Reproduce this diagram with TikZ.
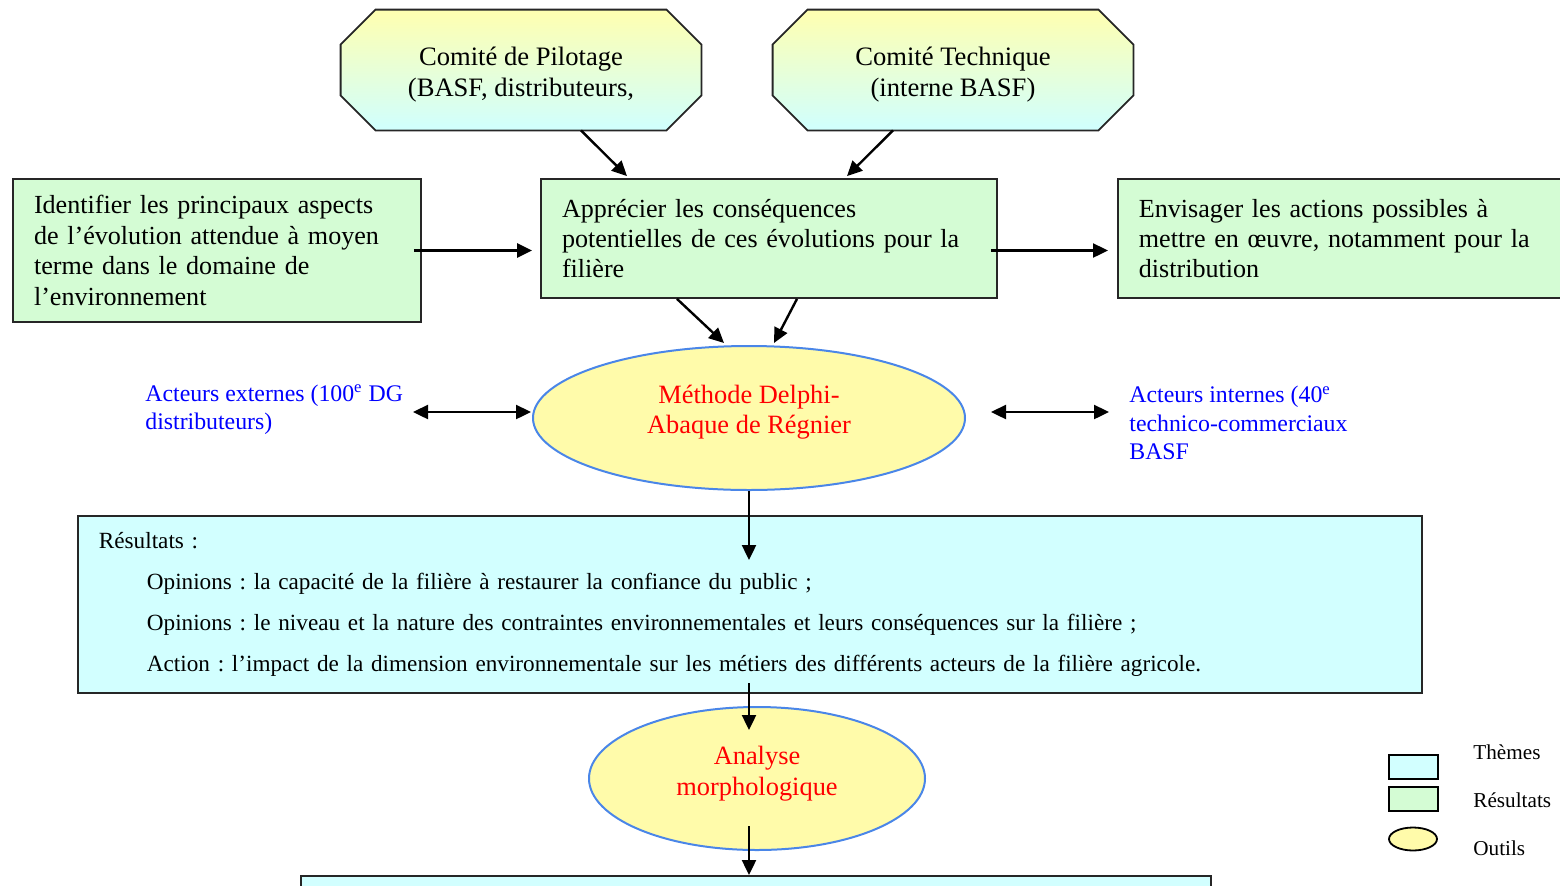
\documentclass[tikz,border=0pt]{standalone}
\usepackage{fontspec}
\setmainfont{Liberation Serif}
\usetikzlibrary{arrows.meta,calc,shapes.geometric,backgrounds}
\definecolor{gfill}{RGB}{212,252,212}
\definecolor{cfill}{RGB}{210,255,255}
\definecolor{yfill}{RGB}{255,251,170}
\definecolor{eborder}{RGB}{74,134,232}
\definecolor{octtop}{RGB}{255,255,176}
\definecolor{octbot}{RGB}{208,255,255}
\definecolor{bluetxt}{RGB}{0,0,255}
\definecolor{redtxt}{RGB}{255,0,0}
\newcommand{\bigf}{\frenchspacing\fontsize{13.05}{15.2}\selectfont}
\newcommand{\redf}{\frenchspacing\fontsize{13.2}{15.3}\selectfont}
\newcommand{\octf}{\frenchspacing\fontsize{13.3}{15.5}\selectfont}
\newcommand{\actf}{\frenchspacing\fontsize{11.9}{14.2}\selectfont}
\newcommand{\resf}{\frenchspacing\fontsize{11.6}{20.5}\selectfont}
\newcommand{\legf}{\frenchspacing\fontsize{10.6}{12}\selectfont}
\begin{document}
\frenchspacing
\begin{tikzpicture}[x=0.5pt,y=-0.5pt,
 boxline/.style={draw=black!85, line width=0.9pt},
 gbox/.style={boxline, fill=gfill, rectangle, align=left, inner xsep=10.5pt, inner ysep=0pt, font=\bigf},
 cbox/.style={boxline, fill=cfill, rectangle},
 tool/.style={ellipse, draw=eborder, line width=1pt, fill=yfill, inner sep=0pt},
 octtext/.style={align=center, font=\octf, inner sep=0pt, minimum width=180pt, minimum height=60pt},
 arr/.style={line width=1.2pt, -{Triangle[length=7.5pt,width=7pt]}},
 darr/.style={line width=1.2pt, {Triangle[length=7.5pt,width=7pt]}-{Triangle[length=7.5pt,width=7pt]}},
 actor/.style={text=bluetxt, font=\actf, align=left, inner sep=0pt, anchor=west},
 tooltext/.style={text=redtxt, font=\redf, align=center, inner sep=0pt},
 legtext/.style={font=\legf, inner sep=0pt, anchor=west},
 legbox/.style={draw=black, line width=0.9pt, rectangle, inner sep=0pt, minimum width=24.5pt, minimum height=12pt},
]
\useasboundingbox (0,0) rectangle (1560,885);

% committees (text shifted slightly down inside the octagon frame)
\node[octtext] (P) at (521,70) {\rule{0pt}{13.5pt}Comité de Pilotage\\(BASF, distributeurs,};
\node[octtext] (T) at (953,70) {\rule{0pt}{13.5pt}Comité Technique\\(interne BASF)};
\begin{scope}[on background layer]
\foreach \o in {P,T}{
\shade[top color=octtop,bottom color=octbot, draw=black!85, line width=0.9pt]
 ($(\o.north west)+(35,0)$) -- ($(\o.north east)+(-35,0)$) -- ($(\o.north east)+(0,35)$)
 -- ($(\o.south east)+(0,-35)$) -- ($(\o.south east)+(-35,0)$) -- ($(\o.south west)+(35,0)$)
 -- ($(\o.south west)+(0,-35)$) -- ($(\o.north west)+(0,35)$) -- cycle;
}
\end{scope}

% green boxes
\node[gbox, text width=183pt, minimum height=71.5pt] (L) at (217,250.5)
 {Identifier les principaux aspects\\de l’évolution attendue à moyen\\terme dans le domaine de\\l’environnement};
\node[gbox, text width=207pt, minimum height=59.5pt] (M) at (769,238.5)
 {Apprécier les conséquences\\potentielles de ces évolutions pour la\\filière};
\node[gbox, text width=219pt, minimum height=59.5pt, anchor=west] (E) at (1117,238.5)
 {Envisager les actions possibles à\\mettre en œuvre, notamment pour la\\distribution};

% Delphi
\node[tool, minimum width=216pt, minimum height=72pt] (D) at (749,418) {};
\node[tooltext] (Dt) at (749,412) {Méthode Delphi-\\Abaque de Régnier};

% actors
\node[actor] (AE) at (145,410) {Acteurs externes (100\textsuperscript{e} DG\\distributeurs)};
\node[actor] (AI) at (1129,423) {Acteurs internes (40\textsuperscript{e}\\technico-commerciaux\\BASF};

% results
\node[cbox, anchor=north west, minimum width=672pt, minimum height=88.5pt, text width=651pt,
 inner xsep=10.5pt, inner ysep=0pt, align=left, font=\resf] (R) at (77,515)
 {Résultats :\\
 \hspace*{24pt}Opinions : la capacité de la filière à restaurer la confiance du public ;\\
 \hspace*{24pt}Opinions : le niveau et la nature des contraintes environnementales et leurs conséquences sur la filière ;\\
 \hspace*{24pt}Action : l’impact de la dimension environnementale sur les métiers des différents acteurs de la filière agricole.};

% analyse
\node[tool, minimum width=168pt, minimum height=71.5pt] (A) at (757,778.5) {};
\node[tooltext] (At) at (757,773.5) {Analyse\\morphologique};

% bottom box
\node[cbox, anchor=north, minimum width=455pt, minimum height=30pt] (B) at (756,875) {};

% connectors
\draw[arr] ($(P.south)+(60,0)$) -- ($(M.north)+(-142,-2)$);
\draw[arr] ($(T.south)+(-60,0)$) -- ($(M.north)+(78,-2)$);
\draw[arr] ($(L.east)+(-8,0)$) -- ($(M.west |- L.east)+(-8,0)$);
\draw[arr] ($(M.east |- L.east)+(-7,0)$) -- ($(E.west |- L.east)+(-9,0)$);
\draw[arr] ($(M.south)+(-92,0)$) -- ($(D.north)+(-25,-2)$);
\draw[arr] ($(M.south)+(28,0)$) -- ($(D.north)+(25,-2)$);
\draw[darr] ($(D.west)+(-119,-6)$) -- ($(D.west)+(-1,-6)$);
\draw[darr] ($(D.east)+(25,-6)$) -- ($(D.east)+(143,-6)$);
\coordinate (rin) at (749,560);
\coordinate (rout) at (749,683);
\coordinate (ain) at (749,730);
\coordinate (aout) at (749,826);
\draw[arr] (D.south) -- (rin);
\draw[arr] (rout) -- (ain);
\draw[arr] (aout) -- (aout |- B.north);

% legend
\node[legbox, fill=cfill] (LT) at (1413.5,767) {};
\node[legbox, fill=gfill] (LR) at (1413.5,799) {};
\node[ellipse, draw=black, line width=0.9pt, fill=yfill, inner sep=0pt, minimum width=24pt, minimum height=11.5pt] (LO) at (1413,839) {};
\node[legtext] (LTt) at (1473,752) {Thèmes};
\node[legtext] (LRt) at (1473,800) {Résultats};
\node[legtext] (LOt) at (1473,848) {Outils};
\end{tikzpicture}
\end{document}
